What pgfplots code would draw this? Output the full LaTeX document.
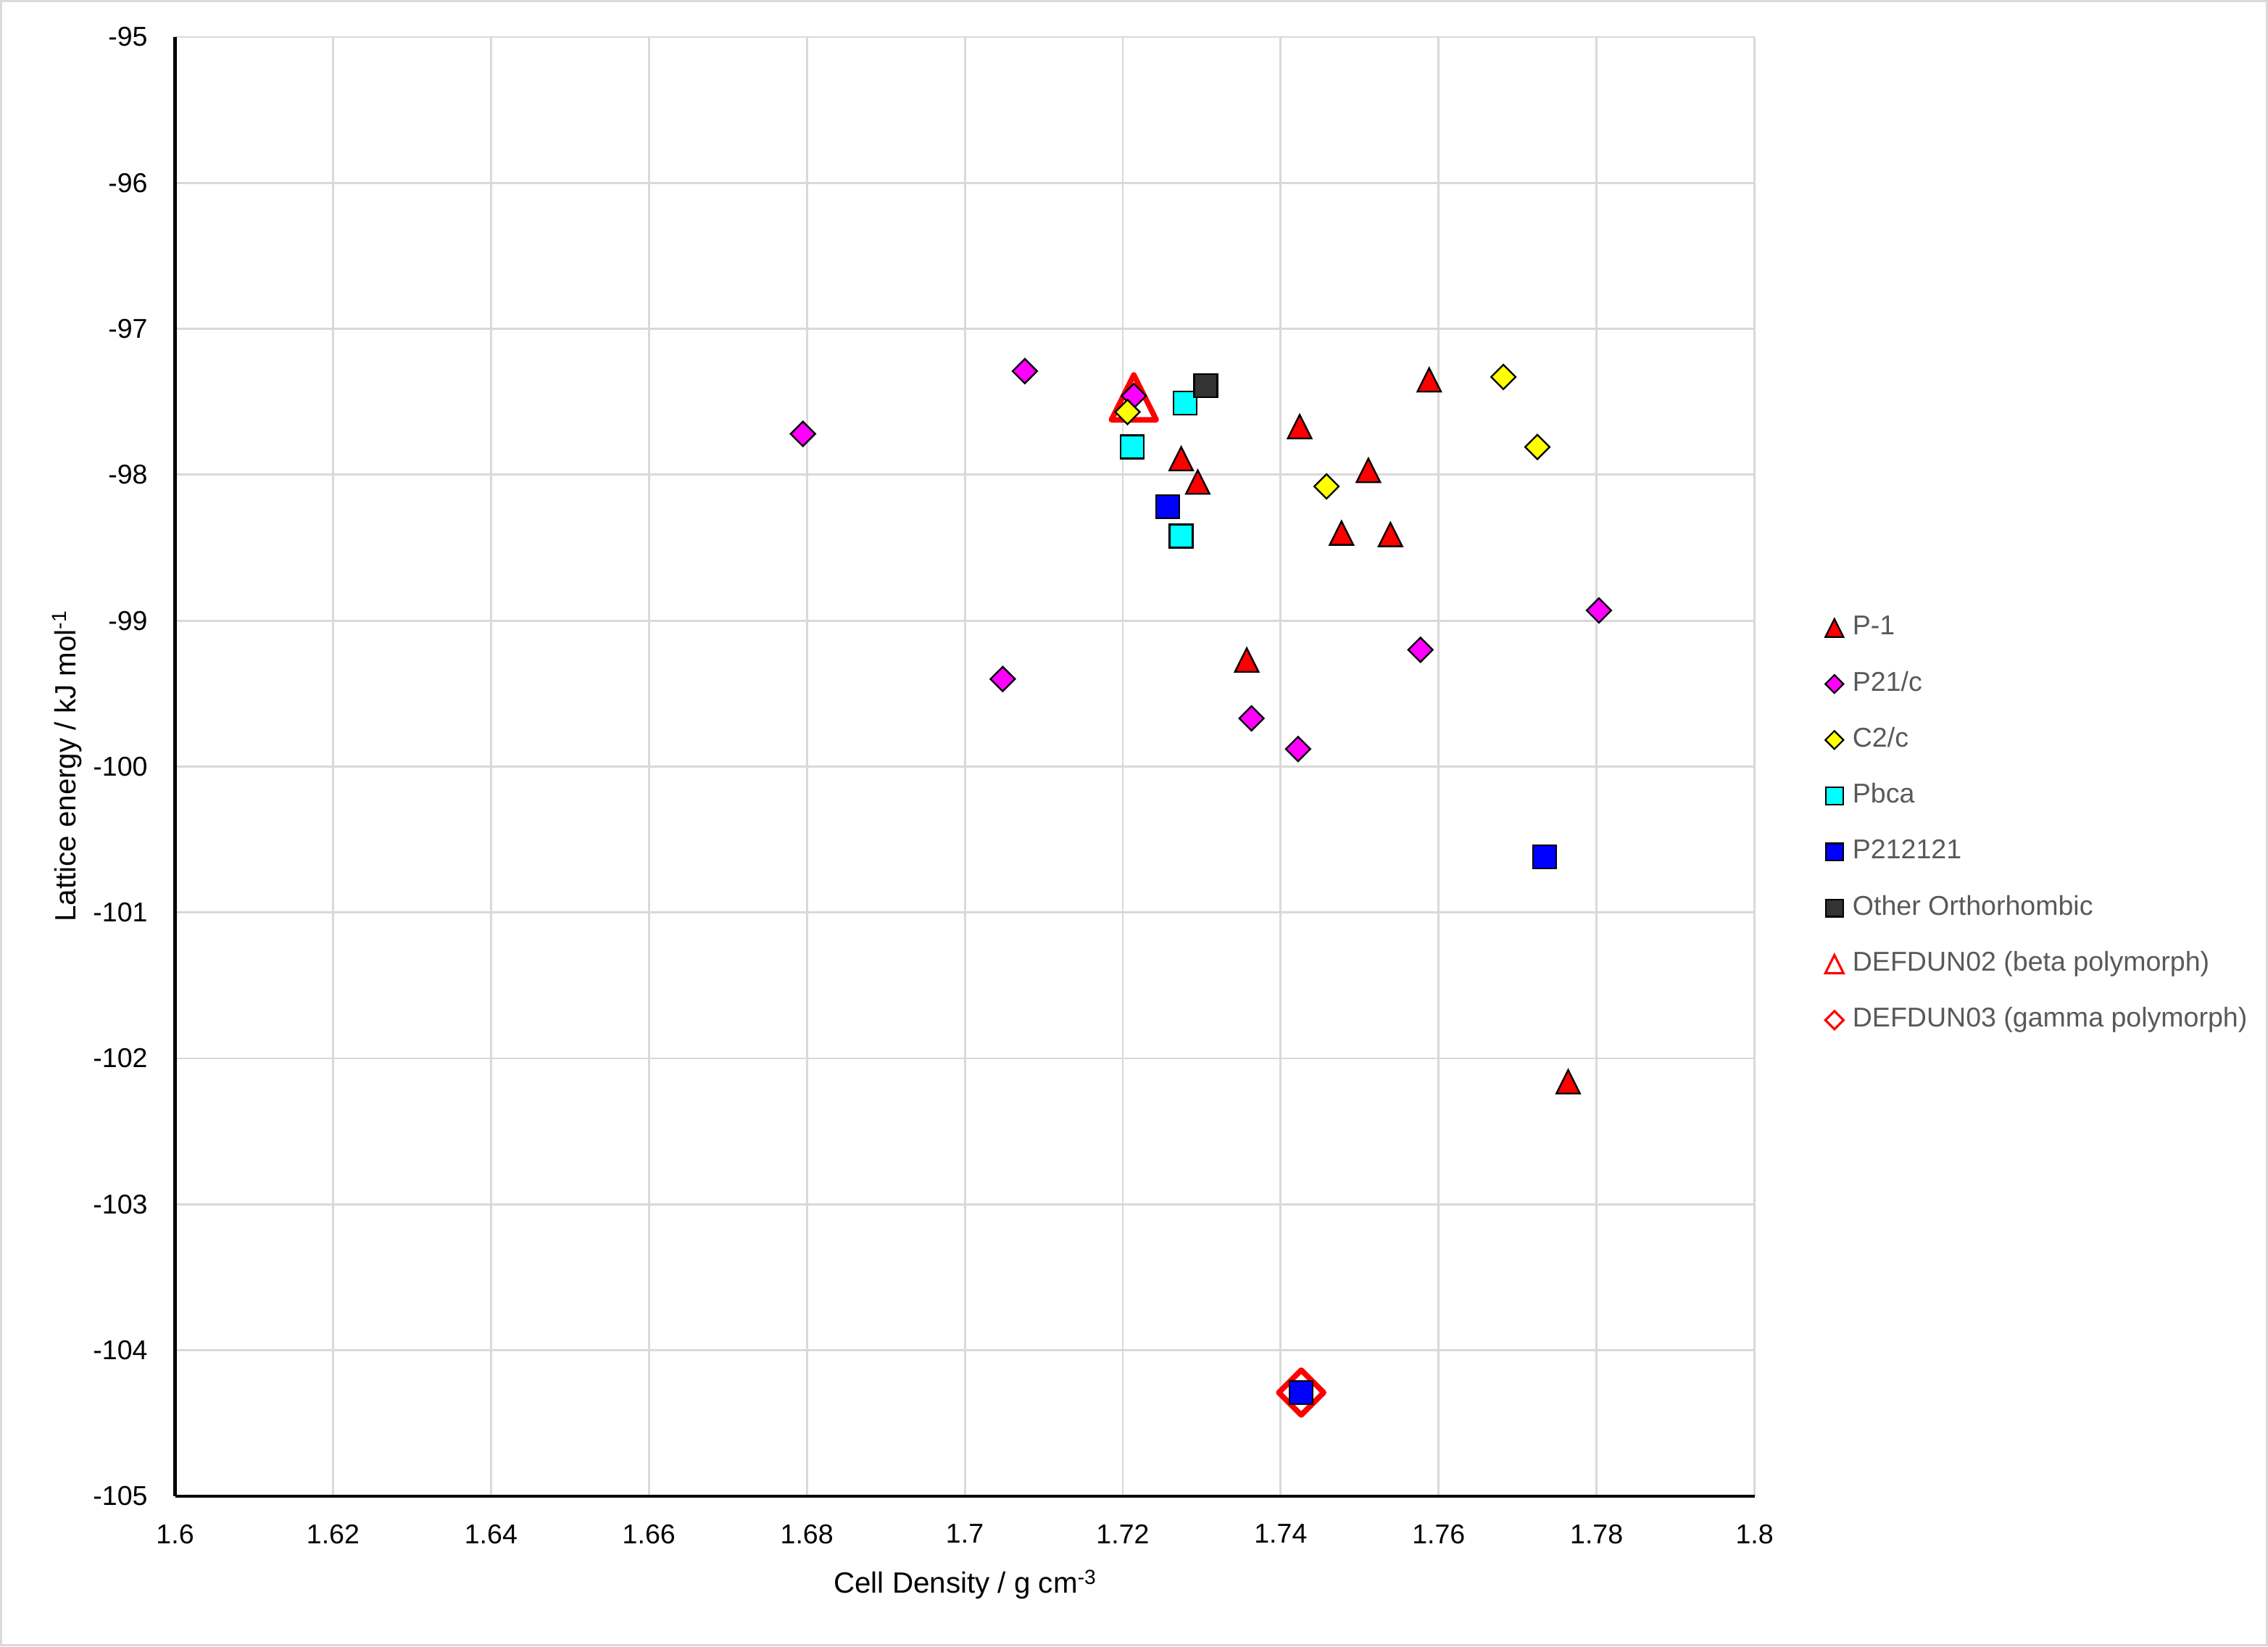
\documentclass[border=0pt]{standalone}
\usepackage{fontspec}
\setmainfont{Liberation Sans}
\usepackage{pgfplots}
\pgfplotsset{compat=1.18}
\definecolor{gridgray}{HTML}{D9D9D9}
\definecolor{txtgray}{HTML}{595959}
\definecolor{othgray}{HTML}{333333}
\definecolor{xred}{HTML}{FF0000}
\definecolor{xmag}{HTML}{FF00FF}
\definecolor{xyel}{HTML}{FFFF00}
\definecolor{xcyan}{HTML}{00FFFF}
\definecolor{xblue}{HTML}{0000FF}
\pgfdeclareplotmark{xltri}{%
  \pgfpathmoveto{\pgfqpoint{0pt}{\pgfplotmarksize}}%
  \pgfpathlineto{\pgfqpoint{\pgfplotmarksize}{-\pgfplotmarksize}}%
  \pgfpathlineto{\pgfqpoint{-\pgfplotmarksize}{-\pgfplotmarksize}}%
  \pgfpathclose\pgfusepathqfillstroke}
\pgfdeclareplotmark{xltrio}{%
  \pgfpathmoveto{\pgfqpoint{0pt}{\pgfplotmarksize}}%
  \pgfpathlineto{\pgfqpoint{\pgfplotmarksize}{-\pgfplotmarksize}}%
  \pgfpathlineto{\pgfqpoint{-\pgfplotmarksize}{-\pgfplotmarksize}}%
  \pgfpathclose\pgfusepathqstroke}
\pgfdeclareplotmark{xldia}{%
  \pgfpathmoveto{\pgfqpoint{0pt}{\pgfplotmarksize}}%
  \pgfpathlineto{\pgfqpoint{\pgfplotmarksize}{0pt}}%
  \pgfpathlineto{\pgfqpoint{0pt}{-\pgfplotmarksize}}%
  \pgfpathlineto{\pgfqpoint{-\pgfplotmarksize}{0pt}}%
  \pgfpathclose\pgfusepathqfillstroke}
\pgfdeclareplotmark{xldiao}{%
  \pgfpathmoveto{\pgfqpoint{0pt}{\pgfplotmarksize}}%
  \pgfpathlineto{\pgfqpoint{\pgfplotmarksize}{0pt}}%
  \pgfpathlineto{\pgfqpoint{0pt}{-\pgfplotmarksize}}%
  \pgfpathlineto{\pgfqpoint{-\pgfplotmarksize}{0pt}}%
  \pgfpathclose\pgfusepathqstroke}
\pgfdeclareplotmark{xlsq}{%
  \pgfpathrectangle{\pgfqpoint{-\pgfplotmarksize}{-\pgfplotmarksize}}{\pgfqpoint{2\pgfplotmarksize}{2\pgfplotmarksize}}%
  \pgfusepathqfillstroke}
\begin{document}
\begin{tikzpicture}
\useasboundingbox (-77.2pt,-66.2pt) rectangle (922.8pt,659.6pt);
\draw[gridgray, line width=1pt] (-76.7pt,-65.7pt) rectangle (922.3pt,659.1pt);
\begin{axis}[
  scale only axis, width=696.4pt, height=643.3pt,
  xmin=1.6, xmax=1.8, ymin=-105, ymax=-95,
  xtick={1.6,1.62,1.64,1.66,1.68,1.7,1.72,1.74,1.76,1.78,1.8},
  xticklabels={1.6,1.62,1.64,1.66,1.68,1.7,1.72,1.74,1.76,1.78,1.8},
  ytick={-105,-104,-103,-102,-101,-100,-99,-98,-97,-96,-95},
  yticklabels={-105,-104,-103,-102,-101,-100,-99,-98,-97,-96,-95},
  grid=major, major grid style={gridgray, line width=0.9pt},
  axis x line*=bottom, axis y line*=left,
  axis line style={black, line width=1.4pt, -},
  major tick length=0pt,
  font=\fontsize{12}{14}\selectfont,
  ticklabel style={font=\fontsize{12}{14}\selectfont, text=black},
  xticklabel style={yshift=-9pt},
  yticklabel style={xshift=-8.6pt},
  xlabel={Cell Density / g cm\raisebox{0.6ex}{\fontsize{9}{9}\selectfont -3}},
  ylabel={Lattice energy / kJ mol\raisebox{0.6ex}{\fontsize{9}{9}\selectfont -1}},
  xlabel style={font=\fontsize{12.9}{15}\selectfont, at={(axis description cs:0.5,-0.0450)}, anchor=north},
  ylabel style={font=\fontsize{12.9}{15}\selectfont, at={(axis description cs:-0.0540,0.5)}, anchor=south},
  legend cell align=left,
  legend image code/.code={\path[draw=none, fill=none] (-5pt,-4pt) rectangle (4pt,4pt); \draw[#1] plot coordinates {(0pt,0pt)};},
  legend style={draw=none, fill=none, at={(axis description cs:1.0431,0.4606)}, anchor=west,
    inner sep=0pt, row sep=5.6pt, column sep=0pt, font=\fontsize{12}{14}\selectfont, text=txtgray,
    nodes={inner sep=4pt, text height=8.6pt, text depth=2.5pt}},
]
% DEFDUN02 (beta polymorph)
\addplot[forget plot, only marks, mark=xltrio, mark size=9.9pt, mark options={draw=xred, line width=2.4pt, line join=round}]
  coordinates {(1.7214,-97.47)};
% DEFDUN03 (gamma polymorph)
\addplot[forget plot, only marks, mark=xldiao, mark size=9.9pt, mark options={draw=xred, line width=2.4pt, line join=round}]
  coordinates {(1.7426,-104.29)};
% P-1
\addplot[forget plot, only marks, mark=xltri, mark size=5.2pt, mark options={draw=black, fill=xred, line width=0.75pt}]
  coordinates {(1.7588,-97.35) (1.7424,-97.67) (1.7274,-97.89) (1.7295,-98.05) (1.7511,-97.97)
               (1.7477,-98.40) (1.7539,-98.41) (1.7357,-99.27) (1.7764,-102.16)};
% P21/c
\addplot[forget plot, only marks, mark=xldia, mark size=5.4pt, mark options={draw=black, fill=xmag, line width=0.75pt}]
  coordinates {(1.6795,-97.72) (1.7076,-97.29) (1.7214,-97.46) (1.7803,-98.93) (1.7577,-99.20)
               (1.7048,-99.40) (1.7363,-99.67) (1.7422,-99.88)};
% C2/c
\addplot[forget plot, only marks, mark=xldia, mark size=5.4pt, mark options={draw=black, fill=xyel, line width=0.75pt}]
  coordinates {(1.7206,-97.57) (1.7682,-97.33) (1.7725,-97.81) (1.7458,-98.08)};
% Pbca
\addplot[forget plot, only marks, mark=xlsq, mark size=5.1pt, mark options={draw=black, fill=xcyan, line width=0.75pt}]
  coordinates {(1.7279,-97.51) (1.7212,-97.81) (1.7274,-98.42)};
% P212121
\addplot[forget plot, only marks, mark=xlsq, mark size=5.1pt, mark options={draw=black, fill=xblue, line width=0.75pt}]
  coordinates {(1.7257,-98.22) (1.7734,-100.62) (1.7426,-104.29)};
% Other Orthorhombic
\addplot[forget plot, only marks, mark=xlsq, mark size=5.1pt, mark options={draw=black, fill=othgray, line width=0.75pt}]
  coordinates {(1.7305,-97.39)};
% legend
\addlegendimage{mark=xltri, mark size=4pt, mark options={draw=black, fill=xred, line width=0.7pt}}
\addlegendentry{P-1}
\addlegendimage{mark=xldia, mark size=4pt, mark options={draw=black, fill=xmag, line width=0.7pt}}
\addlegendentry{P21/c}
\addlegendimage{mark=xldia, mark size=4pt, mark options={draw=black, fill=xyel, line width=0.7pt}}
\addlegendentry{C2/c}
\addlegendimage{mark=xlsq, mark size=3.8pt, mark options={draw=black, fill=xcyan, line width=0.7pt}}
\addlegendentry{Pbca}
\addlegendimage{mark=xlsq, mark size=3.8pt, mark options={draw=black, fill=xblue, line width=0.7pt}}
\addlegendentry{P212121}
\addlegendimage{mark=xlsq, mark size=3.8pt, mark options={draw=black, fill=othgray, line width=0.7pt}}
\addlegendentry{Other Orthorhombic}
\addlegendimage{mark=xltrio, mark size=4pt, mark options={draw=xred, line width=1pt}}
\addlegendentry{DEFDUN02 (beta polymorph)}
\addlegendimage{mark=xldiao, mark size=4pt, mark options={draw=xred, line width=1pt}}
\addlegendentry{DEFDUN03 (gamma polymorph)}
\end{axis}
\end{tikzpicture}
\end{document}
